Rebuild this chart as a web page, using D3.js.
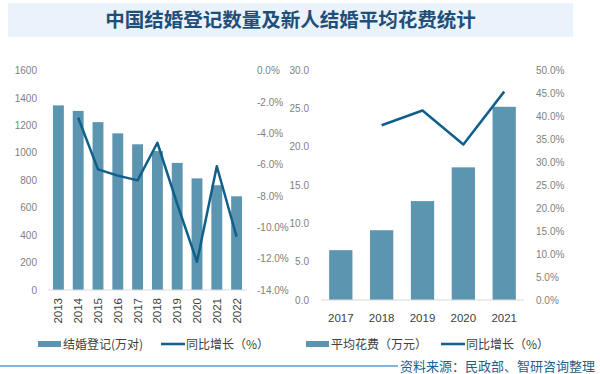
<!DOCTYPE html>
<html>
<head>
<meta charset="utf-8">
<script src="https://cdn.jsdelivr.net/npm/d3@7"></script>
<style>
  body { margin: 0; background: #fff; }
  svg { display: block; }
</style>
</head>
<body>
<div id="chart"></div>
<script>
// marriage registrations (left panel)
var years = ["2013", "2014", "2015", "2016", "2017", "2018", "2019", "2020", "2021", "2022"];
var marriages = [1346.9, 1306.7, 1224.7, 1142.8, 1063.1, 1013.9, 927.3, 814.3, 764.3, 683.5];
var marriageGrowth = [null, -3.0, -6.3, -6.7, -7.0, -4.6, -8.5, -12.2, -6.1, -10.6];
var leftTicks = [0, 200, 400, 600, 800, 1000, 1200, 1400, 1600];
var leftPctTicks = [0, -2, -4, -6, -8, -10, -12, -14];

// average wedding cost (right panel)
var costYears = ["2017", "2018", "2019", "2020", "2021"];
var avgCost = [6.5, 9.1, 12.9, 17.3, 25.2];
var costGrowth = [null, 38.0, 41.2, 33.8, 45.3];
var costTicks = [0, 5, 10, 15, 20, 25, 30];
var costPctTicks = [0, 5, 10, 15, 20, 25, 30, 35, 40, 45, 50];

var title = "中国结婚登记数量及新人结婚平均花费统计";
var legendLeft = ["结婚登记(万对)", "同比增长（%）"];
var legendRight = ["平均花费（万元）", "同比增长（%）"];
var source = "资料来源：民政部、智研咨询整理";

var width = 600, height = 374;
var barColor = "#5b95b0", lineColor = "#0f5f8a";
var numFont = "'Liberation Sans', Arial, sans-serif";
var cjkFont = "'Noto Sans CJK SC', sans-serif";

var svg = d3.select("#chart").append("svg")
    .attr("width", width)
    .attr("height", height);

// title banner
svg.append("rect")
    .attr("x", 8).attr("y", 3)
    .attr("width", 565).attr("height", 34)
    .attr("fill", "#eaf3fb");
svg.append("text")
    .attr("x", 290.5).attr("y", 27)
    .attr("text-anchor", "middle")
    .attr("font-family", cjkFont)
    .attr("font-weight", "bold")
    .attr("font-size", "19.5px")
    .attr("fill", "#1f4e79")
    .text(title);

// ---------- left panel ----------
var x1 = d3.scaleBand()
    .domain(years)
    .range([48, 247])
    .paddingInner(0.45)
    .paddingOuter(0.25);

var y1 = d3.scaleLinear().domain([0, 1600]).range([290, 70.7]);
var y1r = d3.scaleLinear().domain([-14, 0]).range([290, 70.7]);

var left = svg.append("g");

left.selectAll("rect.bar")
    .data(marriages)
    .enter()
    .append("rect")
    .attr("class", "bar")
    .attr("x", function(d, i) { return x1(years[i]); })
    .attr("y", function(d) { return y1(d); })
    .attr("width", x1.bandwidth())
    .attr("height", function(d) { return y1(0) - y1(d); })
    .attr("fill", barColor);

left.append("line")
    .attr("x1", 48).attr("x2", 247)
    .attr("y1", y1(0)).attr("y2", y1(0))
    .attr("stroke", "#d9d9d9");

left.selectAll("text.ytick")
    .data(leftTicks)
    .enter()
    .append("text")
    .attr("class", "ytick")
    .attr("x", 37)
    .attr("y", function(d) { return y1(d) + 3.5; })
    .attr("text-anchor", "end")
    .attr("font-family", numFont)
    .attr("font-size", "10px")
    .attr("fill", "#7f7f7f")
    .text(function(d) { return d; });

left.selectAll("text.ptick")
    .data(leftPctTicks)
    .enter()
    .append("text")
    .attr("class", "ptick")
    .attr("x", 257)
    .attr("y", function(d) { return y1r(d) + 3.5; })
    .attr("font-family", numFont)
    .attr("font-size", "10px")
    .attr("fill", "#7f7f7f")
    .text(function(d) { return d.toFixed(1) + "%"; });

left.selectAll("text.xtick")
    .data(years)
    .enter()
    .append("text")
    .attr("class", "xtick")
    .attr("transform", function(d) {
        return "translate(" + (x1(d) + x1.bandwidth() / 2 + 4) + ",298) rotate(-90)";
    })
    .attr("text-anchor", "end")
    .attr("font-family", numFont)
    .attr("font-size", "11.5px")
    .attr("fill", "#404040")
    .text(function(d) { return d; });

var line1 = d3.line()
    .defined(function(d) { return d != null; })
    .x(function(d, i) { return x1(years[i]) + x1.bandwidth() / 2; })
    .y(function(d) { return y1r(d); });

left.append("path")
    .datum(marriageGrowth)
    .attr("d", line1)
    .attr("fill", "none")
    .attr("stroke", lineColor)
    .attr("stroke-width", 2.5)
    .attr("stroke-linejoin", "round");

// ---------- right panel ----------
var x2 = d3.scaleBand()
    .domain(costYears)
    .range([321, 524])
    .paddingInner(0.43)
    .paddingOuter(0.2);

var y2 = d3.scaleLinear().domain([0, 30]).range([300, 70]);
var y2r = d3.scaleLinear().domain([0, 50]).range([300, 70]);

var right = svg.append("g");

right.selectAll("rect.bar")
    .data(avgCost)
    .enter()
    .append("rect")
    .attr("class", "bar")
    .attr("x", function(d, i) { return x2(costYears[i]); })
    .attr("y", function(d) { return y2(d); })
    .attr("width", x2.bandwidth())
    .attr("height", function(d) { return y2(0) - y2(d); })
    .attr("fill", barColor);

right.append("line")
    .attr("x1", 321).attr("x2", 524)
    .attr("y1", y2(0)).attr("y2", y2(0))
    .attr("stroke", "#d9d9d9");

right.selectAll("text.ytick")
    .data(costTicks)
    .enter()
    .append("text")
    .attr("class", "ytick")
    .attr("x", 309)
    .attr("y", function(d) { return y2(d) + 3.5; })
    .attr("text-anchor", "end")
    .attr("font-family", numFont)
    .attr("font-size", "10px")
    .attr("fill", "#7f7f7f")
    .text(function(d) { return d.toFixed(1); });

right.selectAll("text.ptick")
    .data(costPctTicks)
    .enter()
    .append("text")
    .attr("class", "ptick")
    .attr("x", 536)
    .attr("y", function(d) { return y2r(d) + 3.5; })
    .attr("font-family", numFont)
    .attr("font-size", "10px")
    .attr("fill", "#7f7f7f")
    .text(function(d) { return d.toFixed(1) + "%"; });

right.selectAll("text.xtick")
    .data(costYears)
    .enter()
    .append("text")
    .attr("class", "xtick")
    .attr("x", function(d) { return x2(d) + x2.bandwidth() / 2; })
    .attr("y", 322)
    .attr("text-anchor", "middle")
    .attr("font-family", numFont)
    .attr("font-size", "11.5px")
    .attr("fill", "#404040")
    .text(function(d) { return d; });

var line2 = d3.line()
    .defined(function(d) { return d != null; })
    .x(function(d, i) { return x2(costYears[i]) + x2.bandwidth() / 2; })
    .y(function(d) { return y2r(d); });

right.append("path")
    .datum(costGrowth)
    .attr("d", line2)
    .attr("fill", "none")
    .attr("stroke", lineColor)
    .attr("stroke-width", 2.5)
    .attr("stroke-linejoin", "round");

// ---------- legends ----------
function drawLegend(g, x0, labels, lineX) {
    g.append("rect")
        .attr("x", x0).attr("y", 341)
        .attr("width", 23).attr("height", 6)
        .attr("fill", barColor);
    g.append("text")
        .attr("x", x0 + 25).attr("y", 348.5)
        .attr("font-family", cjkFont)
        .attr("font-size", "12px")
        .attr("fill", "#404040")
        .text(labels[0]);
    g.append("line")
        .attr("x1", lineX).attr("x2", lineX + 24)
        .attr("y1", 344).attr("y2", 344)
        .attr("stroke", lineColor)
        .attr("stroke-width", 2.5);
    g.append("text")
        .attr("x", lineX + 25).attr("y", 348.5)
        .attr("font-family", cjkFont)
        .attr("font-size", "12px")
        .attr("fill", "#404040")
        .text(labels[1]);
}
drawLegend(svg.append("g"), 38, legendLeft, 161);
drawLegend(svg.append("g"), 306, legendRight, 441);

// ---------- footer ----------
svg.append("line")
    .attr("x1", 0).attr("x2", 398)
    .attr("y1", 366).attr("y2", 366)
    .attr("stroke", "#5b9bc9")
    .attr("stroke-width", 1.5);
svg.append("text")
    .attr("x", 595).attr("y", 371)
    .attr("text-anchor", "end")
    .attr("font-family", cjkFont)
    .attr("font-size", "13px")
    .attr("fill", "#1f5f8b")
    .text(source);
</script>
</body>
</html>
